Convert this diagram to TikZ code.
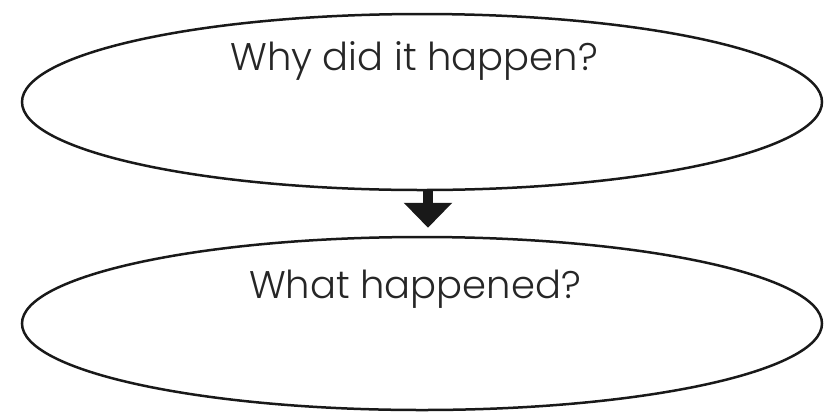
\documentclass[tikz,border=0pt]{standalone}
\usepackage{fontspec}
\setmainfont{Poppins}[UprightFont=* Light]
\usetikzlibrary{positioning,arrows.meta,shapes.geometric}

\begin{document}
\begin{tikzpicture}[
x=1pt,y=1pt,
oval/.style={
ellipse,
draw=black!90,
line width=2.5pt,
minimum width=800pt,
minimum height=176pt,
inner sep=0pt
},
question/.style={
font=\fontsize{38.5}{42}\selectfont,
text=black!85,
anchor=base
},
arrow/.style={
-{Triangle[length=25pt,width=47pt]},
line width=10pt,
draw=black!90
}
]
\useasboundingbox (0,0) rectangle (829,-416);

\node[oval] (why) at (422,-102) {};
\node[oval,minimum height=173pt] (what) at (422,-323.5) {};

\node[question] (whytext) at (414,-70) {Why did it happen?};
\node[question] (whattext) at (415,-298) {What happened?};

\draw[arrow,shorten >=8pt] ([xshift=6pt]why.south) -- ([xshift=6pt]what.north);

\end{tikzpicture}
\end{document}
